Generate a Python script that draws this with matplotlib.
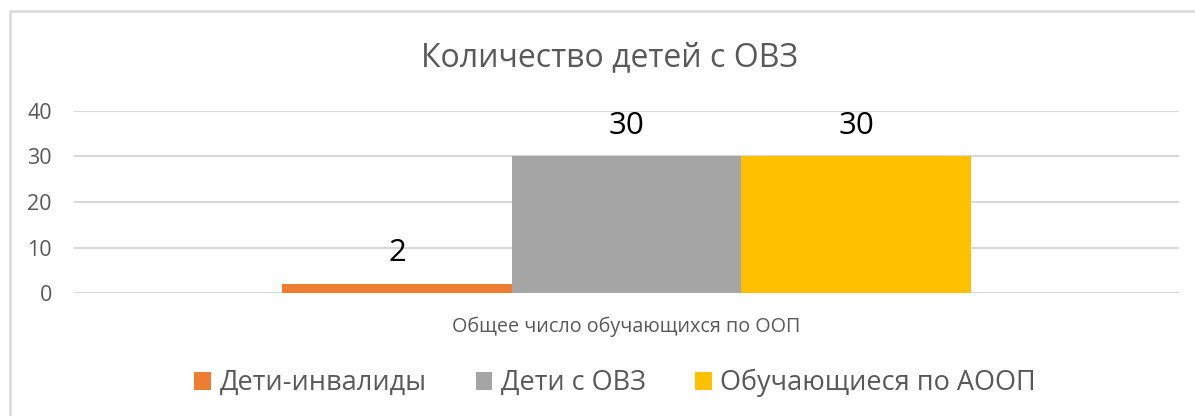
import matplotlib
matplotlib.use("Agg")
import matplotlib.pyplot as plt
from matplotlib.patches import Rectangle

categories = ["Общее число обучающихся по ООП"]
series_names = ["Дети-инвалиды", "Дети с ОВЗ", "Обучающиеся по АООП"]
series_values = [[2], [30], [30]]
colors = ["#ED7D31", "#A5A5A5", "#FFC000"]
yticks = [0, 10, 20, 30, 40]
title = "Количество детей с ОВЗ"

FONT = ["Open Sans", "DejaVu Sans"]
plt.rcParams["font.family"] = FONT
TXT = "#595959"

W, H = 1195, 416
fig = plt.figure(figsize=(W / 100, H / 100), dpi=100)
ax = fig.add_axes([74 / W, 1 - 293 / H, (1179 - 74) / W, (293 - 111) / H])

bw = 229.5 / 1105
n = len(series_names)
for i, (name, vals, c) in enumerate(zip(series_names, series_values, colors)):
    xs = [j + (i - (n - 1) / 2) * bw for j in range(len(categories))]
    bars = ax.bar(xs, vals, width=bw, color=c, label=name, zorder=3)
    for b, v in zip(bars, vals):
        ax.annotate(str(v), (b.get_x() + b.get_width() / 2, v),
                    xytext=(0, 22), textcoords="offset points",
                    ha="center", va="center", fontsize=22.5, color="black")

ax.set_xlim(-0.5, len(categories) - 0.5)
ax.set_ylim(0, 40)
ax.set_yticks(yticks)
ax.set_xticks(range(len(categories)))
ax.set_xticklabels(categories)
ax.tick_params(axis="both", length=0, colors=TXT)
ax.tick_params(axis="y", labelsize=15.5, pad=16)
ax.tick_params(axis="x", labelsize=14.2, pad=17)
ax.grid(axis="y", color="#D9D9D9", linewidth=1.5, zorder=0)
for s in ax.spines.values():
    s.set_visible(False)

fig.text(610 / W, 1 - 58 / H, title, ha="center", va="center",
         fontsize=23, color=TXT)

leg = fig.legend(loc="center", bbox_to_anchor=(615 / W, 1 - 383 / H), ncol=3,
                 frameon=False, fontsize=19.5, handlelength=0.62, handleheight=0.66,
                 handletextpad=0.32, columnspacing=1.8, labelcolor=TXT)

fig.add_artist(Rectangle((10 / W, -0.1), 1.2, 1 - 11 / H + 0.1,
                         transform=fig.transFigure, fill=False,
                         edgecolor="#D9D9D9", linewidth=1.8, clip_on=False))

fig.savefig("out.png", dpi=100)
